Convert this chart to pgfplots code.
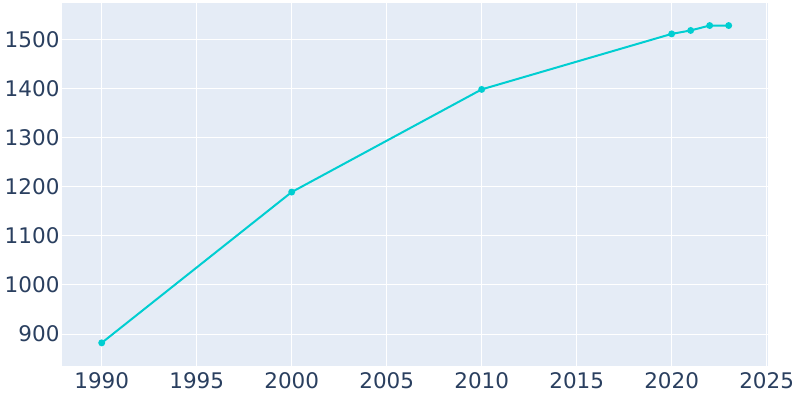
\documentclass[border=0pt]{standalone}
\usepackage{pgfplots}
\pgfplotsset{compat=1.18}
\usepackage{fontspec}
\setmainfont{DejaVu Sans}
\definecolor{bgc}{HTML}{E5ECF6}
\definecolor{txt}{HTML}{2A3F5F}
\definecolor{ln}{HTML}{00CED1}
\begin{document}
\begin{tikzpicture}[x=1pt,y=1pt]
\path (0,0) rectangle (800,400);
\begin{axis}[
  at={(62pt,34pt)}, anchor=south west,
  scale only axis, width=706pt, height=363pt,
  xmin=1987.91, xmax=2025.07, ymin=834.9, ymax=1573.9,
  axis background/.style={fill=bgc},
  axis line style={draw=none},
  major tick length=0pt,
  grid=major, major grid style={white, line width=1pt},
  xtick={1990,1995,...,2025}, ytick={900,1000,...,1500},
  /pgf/number format/assume math mode=true,
  x tick label style={/pgf/number format/1000 sep={}, font=\fontsize{21.5}{24}\selectfont, text=txt, yshift=-3pt},
  y tick label style={/pgf/number format/1000 sep={}, font=\fontsize{21.5}{24}\selectfont, text=txt, xshift=1pt},
]
\addplot[ln, line width=2pt, mark=*, mark size=2.4pt, mark options={fill=ln, draw=ln}] coordinates {
(1990,882) (2000,1189) (2010,1398) (2020,1511) (2021,1518) (2022,1528) (2023,1528)
};
\end{axis}
\end{tikzpicture}
\end{document}
